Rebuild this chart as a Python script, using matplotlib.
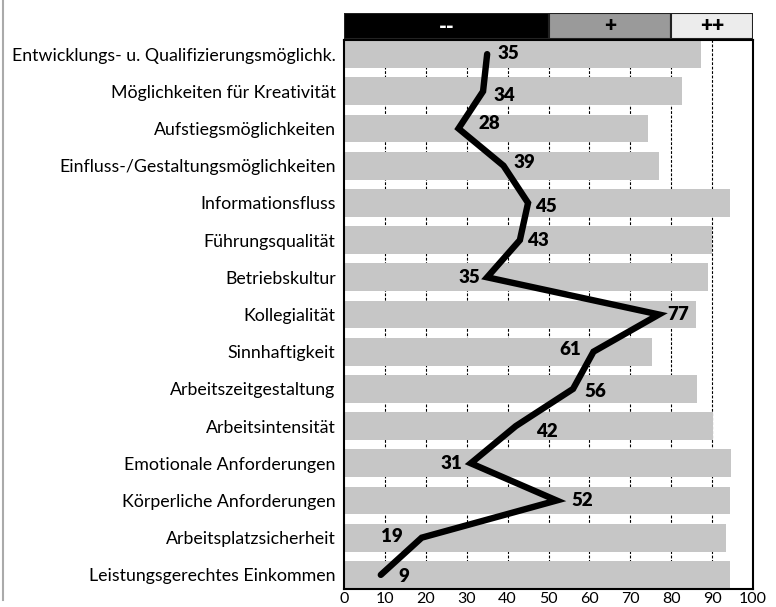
import matplotlib.pyplot as plt
import numpy as np

plt.rcParams['font.family'] = ['Lato', 'DejaVu Sans']

categories = [
    "Entwicklungs- u. Qualifizierungsmöglichk.",
    "Möglichkeiten für Kreativität",
    "Aufstiegsmöglichkeiten",
    "Einfluss-/Gestaltungsmöglichkeiten",
    "Informationsfluss",
    "Führungsqualität",
    "Betriebskultur",
    "Kollegialität",
    "Sinnhaftigkeit",
    "Arbeitszeitgestaltung",
    "Arbeitsintensität",
    "Emotionale Anforderungen",
    "Körperliche Anforderungen",
    "Arbeitsplatzsicherheit",
    "Leistungsgerechtes Einkommen",
]
bar_values = [87.3, 82.6, 74.3, 77.0, 94.4, 89.9, 88.9, 86.1, 75.3, 86.3,
              90.2, 94.6, 94.4, 93.4, 94.4]
line_values = [35, 34, 28, 39, 45, 43, 35, 77, 61, 56, 42, 31, 52, 19, 9]

band_edges = [0, 50, 80, 100]
band_labels = ["--", "+", "++"]

# label offsets in pixels (dx, dy) relative to the line point
label_offsets = [(10, 1), (10, -4), (20, 5), (10, 3), (7, -4), (7, 0), (-7, 0),
                 (8, 0), (-12, 2), (11, -3), (20, -5), (-9, 0), (15, 0),
                 (-19, 1), (18, -2)]

fig = plt.figure(figsize=(7.76, 6.07), dpi=100)
W, H = 776, 607
left, right = 344 / W, 753 / W
ax = fig.add_axes([left, 1 - 589 / H, right - left, (589 - 40) / H])
hx = fig.add_axes([left, 1 - 39 / H, right - left, (39 - 13) / H])

y = np.arange(len(categories))
ax.barh(y, bar_values, height=0.75, color="#c6c6c6", zorder=2)
for gx in range(10, 100, 10):
    ax.axvline(gx, color="black", lw=0.8, ls=(0, (2.5, 1.5)), zorder=1)
ax.plot(line_values, y, color="black", lw=4.6, solid_capstyle="round",
        solid_joinstyle="miter", zorder=3)
for v, yy, (dx, dy) in zip(line_values, y, label_offsets):
    ax.annotate(str(v), (v, yy), xytext=(dx, dy), textcoords="offset pixels",
                ha="left" if dx > 0 else "right", va="center",
                fontsize=13.5, fontweight="heavy", zorder=4)

ax.set_xlim(0, 100)
ax.set_ylim(14.38, -0.38)
ax.set_yticks(y)
ax.set_yticklabels(categories, fontsize=12.8)
ax.set_xticks(range(0, 101, 10))
ax.tick_params(length=0, pad=6)
ax.tick_params(axis="x", labelsize=11.5, pad=2)
for s in ax.spines.values():
    s.set_linewidth(1.5)

colors = ["black", "#9a9a9a", "#ececec"]
text_colors = ["white", "black", "black"]
for i in range(3):
    hx.barh(0, band_edges[i + 1] - band_edges[i], left=band_edges[i], height=1,
            color=colors[i], edgecolor="#222222", lw=1.5)
    hx.text((band_edges[i] + band_edges[i + 1]) / 2, 0, band_labels[i],
            ha="center", va="center", color=text_colors[i],
            fontsize=15, fontweight="heavy")
hx.set_xlim(0, 100)
hx.set_ylim(-0.5, 0.5)
hx.axis("off")

fig.add_artist(plt.Line2D([3 / W, 3 / W], [1 - 600 / H, 1], color="#aaaaaa",
                          lw=1.5, transform=fig.transFigure))

fig.savefig("out.png", dpi=100)
